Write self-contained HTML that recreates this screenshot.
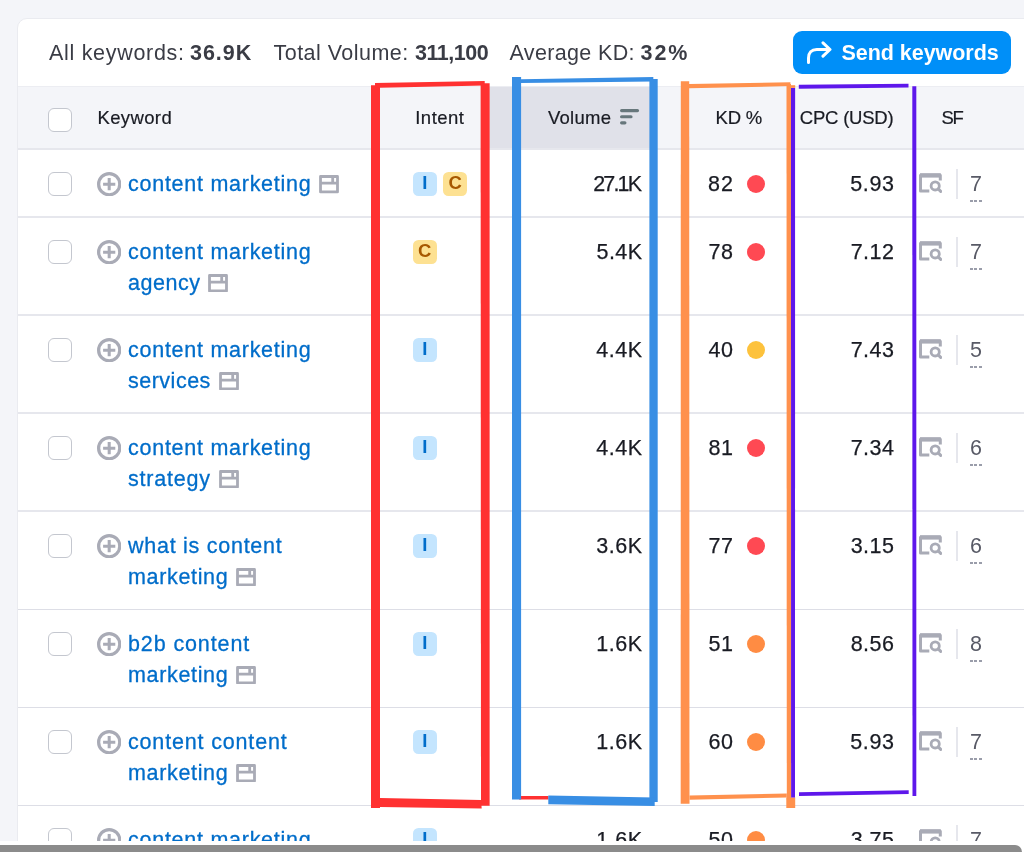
<!DOCTYPE html>
<html lang="en">
<head>
<meta charset="utf-8">
<title>Keyword table</title>
<style>
*{box-sizing:border-box;margin:0;padding:0}
html,body{width:1024px;height:852px;overflow:hidden;background:#F4F5F9}
body{position:relative;font-family:"Liberation Sans",Arial,sans-serif;color:#191B23;font-size:21.5px}
i{font-style:normal;display:block}
#card{position:absolute;left:17px;top:18px;width:1100px;height:900px;background:#fff;border:1px solid #EAEBF0;border-radius:10px}
#top{position:absolute;left:0;top:0;width:1024px;height:86px}
#top .s{position:absolute;top:38px;line-height:30px;white-space:nowrap;font-size:21.5px;color:#3A3C45}
#top b{color:#191B23}
#btn{position:absolute;left:793px;top:31px;width:218px;height:43px;border-radius:9px;background:#008FF8;color:#fff;font-weight:bold;font-size:21.5px;line-height:30px}
#btn span{position:absolute;left:48.500px;top:7px;white-space:nowrap}
#btn svg{position:absolute;left:12.500px;top:10px}
#thead{position:absolute;left:18px;top:86px;width:1006px;height:63px;background:#F4F5F9}
#thead .sorted{position:absolute;left:468px;top:0;width:170px;height:63px;background:#E0E1E9}
.h{-webkit-text-stroke:0.200px #191B23;position:absolute;top:19px;font-size:18.5px;line-height:26px;white-space:nowrap;color:#191B23}
.row{position:absolute;left:0;width:1024px;height:98px}
.line{position:absolute;left:18px;top:-1px;width:1006px;height:2px;background:#E6E7ED}
.l2{top:0;height:1px;background:#DDDEE6}
.cb{position:absolute;left:48px;top:23px;width:24px;height:24px;border:1.5px solid #C4C7CF;border-radius:6px;background:#fff}
.plus{position:absolute;left:97px;top:22.600px}
.kw{-webkit-text-stroke:0.300px #006DCA;position:absolute;left:128px;top:20px;line-height:30.5px;font-size:21.5px;color:#006DCA;white-space:nowrap}
.win{display:inline-block;vertical-align:-2.700px;margin-left:8px}
.bd{position:absolute;top:22.700px;width:24.400px;height:24.400px;border-radius:5.500px;font-size:18.500px;line-height:21.500px;text-align:center;font-weight:bold}
.bdI{background:#C4E5FE;color:#006DCA}
.bdC{background:#FDE192;color:#A75800}
.t{-webkit-text-stroke:0.250px #191B23;position:absolute;top:20px;line-height:30px;font-size:21.5px;white-space:nowrap;color:#191B23}
.vol{right:382px}
.kd{right:291px}
.cpc{right:130px}
.sf{left:970px;color:#585A66;-webkit-text-stroke:0}
.sf:after{content:"";position:absolute;left:0;right:0;top:30.500px;height:2px;background:repeating-linear-gradient(90deg,#9A9DAA 0,#9A9DAA 3px,transparent 3px,transparent 4.500px)}
.dot{position:absolute;left:746.500px;top:25.500px;width:18.500px;height:18.500px;border-radius:50%}
.dr{background:#FF4953}.dy{background:#FDC23C}.do{background:#FF8C43}
.serp{position:absolute;left:919.200px;top:24.300px}
.vd{position:absolute;left:956px;top:20px;width:2px;height:30px;background:#E6E7ED}
#anno{position:absolute;left:0;top:0}
#sbw{position:absolute;left:0;top:841px;width:1024px;height:11px;background:#fff}
#sb{position:absolute;left:0;top:845px;width:1022px;height:7px;background:#8B8B8B;border-radius:0 7px 0 0}
</style>
</head>
<body>
<div id="card"></div>
<div id="top">
<span class="s" style="left:49px;letter-spacing:0.695px">All keywords:</span>
<b class="s" style="left:190px;letter-spacing:0.969px">36.9K</b>
<span class="s" style="left:273.500px;letter-spacing:0.473px">Total Volume:</span>
<b class="s" style="left:415px;letter-spacing:-0.464px">311,100</b>
<span class="s" style="left:509.500px;letter-spacing:0.348px">Average KD:</span>
<b class="s" style="left:640.500px;letter-spacing:1.977px">32%</b>
<div id="btn"><svg width="27" height="24" viewBox="0 0 27 24"><path d="M2.500 21.500v-4.500c0-5.200 3-8.500 8.300-8.500h12.500M17 1.800l7 6.700-7 6.700" fill="none" stroke="#fff" stroke-width="3" stroke-linecap="round" stroke-linejoin="round"/></svg><span style="letter-spacing:-0.04px">Send keywords</span></div>
</div>
<div id="thead">
<div class="sorted"></div><i style="position:absolute;left:0;top:0;width:1006px;height:1px;background:#ECEDF2"></i>
<i class="cb" style="left:30px;top:22px"></i>
<span class="h" style="left:79.500px;letter-spacing:0.369px">Keyword</span>
<span class="h" style="left:397.250px;letter-spacing:0.481px">Intent</span>
<span class="h" style="left:530px;letter-spacing:0.246px">Volume</span>
<svg style="position:absolute;left:601.900px;top:22.500px" width="20" height="16" viewBox="0 0 20 16"><path d="M1.600 1.600h15.900M1.600 7.750h9.400M1.600 13.800h3.300" stroke="#67777C" stroke-width="3.200" stroke-linecap="round"/></svg>
<span class="h" style="left:697.500px;letter-spacing:-0.199px">KD %</span>
<span class="h" style="left:781.750px;letter-spacing:-0.205px">CPC (USD)</span>
<span class="h" style="left:923.500px;letter-spacing:-1.300px">SF</span>
</div>
<div class="row" style="top:149px">
<i class="line"></i><i class="cb"></i><svg class="plus" viewBox="0 0 24 24" width="24.400" height="24.400"><circle cx="12" cy="12" r="10.400" fill="none" stroke="#A9ABB6" stroke-width="3.200"/><path d="M6 12h12M12 6v12" stroke="#A9ABB6" stroke-width="3" fill="none"/></svg>
<div class="kw"><span style="letter-spacing:0.737px;">content marketing</span><svg class="win" viewBox="0 0 20 18.400" width="20" height="18.400"><path d="M1.500 1.500h17v15.400h-17zM1.500 8.100h17M13.700 2v6" fill="none" stroke="#A9ABB6" stroke-width="2.800" stroke-linejoin="round"/></svg></div>
<b class="bd bdI" style="left:412.5px">I</b>
<b class="bd bdC" style="left:443.0px">C</b>
<span class="t vol" style="letter-spacing:-1.859px;margin-right:1.859px;">27.1K</span>
<span class="t kd" style="letter-spacing:1.078px;margin-right:-1.078px;">82</span><i class="dot dr"></i>
<span class="t cpc" style="letter-spacing:0.63px;margin-right:-0.63px;">5.93</span>
<svg class="serp" viewBox="0 0 23 20" width="23" height="20"><path d="M10.300 18H1.500V2.200h19.800v5.300" fill="none" stroke="#A9ABB6" stroke-width="3" stroke-linejoin="round"/><path d="M1 2.400h20.800" stroke="#A9ABB6" stroke-width="4.400" fill="none"/><circle cx="16.200" cy="12.900" r="4.100" fill="none" stroke="#A9ABB6" stroke-width="2.800"/><path d="M19.200 15.900l2.500 2.500" stroke="#A9ABB6" stroke-width="3" stroke-linecap="round"/></svg><i class="vd"></i><span class="t sf">7</span>
</div>
<div class="row" style="top:217px">
<i class="line"></i><i class="cb"></i><svg class="plus" viewBox="0 0 24 24" width="24.400" height="24.400"><circle cx="12" cy="12" r="10.400" fill="none" stroke="#A9ABB6" stroke-width="3.200"/><path d="M6 12h12M12 6v12" stroke="#A9ABB6" stroke-width="3" fill="none"/></svg>
<div class="kw"><span style="letter-spacing:0.737px;">content marketing</span><br><span style="letter-spacing:0.521px;">agency</span><svg class="win" viewBox="0 0 20 18.400" width="20" height="18.400"><path d="M1.500 1.500h17v15.400h-17zM1.500 8.100h17M13.700 2v6" fill="none" stroke="#A9ABB6" stroke-width="2.800" stroke-linejoin="round"/></svg></div>
<b class="bd bdC" style="left:412.5px">C</b>
<span class="t vol" style="letter-spacing:0.422px;margin-right:-0.422px;">5.4K</span>
<span class="t kd" style="letter-spacing:0.5px;margin-right:-0.5px;">78</span><i class="dot dr"></i>
<span class="t cpc" style="letter-spacing:0.5px;margin-right:-0.5px;">7.12</span>
<svg class="serp" viewBox="0 0 23 20" width="23" height="20"><path d="M10.300 18H1.500V2.200h19.800v5.300" fill="none" stroke="#A9ABB6" stroke-width="3" stroke-linejoin="round"/><path d="M1 2.400h20.800" stroke="#A9ABB6" stroke-width="4.400" fill="none"/><circle cx="16.200" cy="12.900" r="4.100" fill="none" stroke="#A9ABB6" stroke-width="2.800"/><path d="M19.200 15.900l2.500 2.500" stroke="#A9ABB6" stroke-width="3" stroke-linecap="round"/></svg><i class="vd"></i><span class="t sf">7</span>
</div>
<div class="row" style="top:315px">
<i class="line"></i><i class="cb"></i><svg class="plus" viewBox="0 0 24 24" width="24.400" height="24.400"><circle cx="12" cy="12" r="10.400" fill="none" stroke="#A9ABB6" stroke-width="3.200"/><path d="M6 12h12M12 6v12" stroke="#A9ABB6" stroke-width="3" fill="none"/></svg>
<div class="kw"><span style="letter-spacing:0.737px;">content marketing</span><br><span style="letter-spacing:0.5px;">services</span><svg class="win" viewBox="0 0 20 18.400" width="20" height="18.400"><path d="M1.500 1.500h17v15.400h-17zM1.500 8.100h17M13.700 2v6" fill="none" stroke="#A9ABB6" stroke-width="2.800" stroke-linejoin="round"/></svg></div>
<b class="bd bdI" style="left:412.5px">I</b>
<span class="t vol" style="letter-spacing:0.5px;margin-right:-0.5px;">4.4K</span>
<span class="t kd" style="letter-spacing:0.5px;margin-right:-0.5px;">40</span><i class="dot dy"></i>
<span class="t cpc" style="letter-spacing:0.5px;margin-right:-0.5px;">7.43</span>
<svg class="serp" viewBox="0 0 23 20" width="23" height="20"><path d="M10.300 18H1.500V2.200h19.800v5.300" fill="none" stroke="#A9ABB6" stroke-width="3" stroke-linejoin="round"/><path d="M1 2.400h20.800" stroke="#A9ABB6" stroke-width="4.400" fill="none"/><circle cx="16.200" cy="12.900" r="4.100" fill="none" stroke="#A9ABB6" stroke-width="2.800"/><path d="M19.200 15.900l2.500 2.500" stroke="#A9ABB6" stroke-width="3" stroke-linecap="round"/></svg><i class="vd"></i><span class="t sf">5</span>
</div>
<div class="row" style="top:413px">
<i class="line"></i><i class="cb"></i><svg class="plus" viewBox="0 0 24 24" width="24.400" height="24.400"><circle cx="12" cy="12" r="10.400" fill="none" stroke="#A9ABB6" stroke-width="3.200"/><path d="M6 12h12M12 6v12" stroke="#A9ABB6" stroke-width="3" fill="none"/></svg>
<div class="kw"><span style="letter-spacing:0.737px;">content marketing</span><br><span style="letter-spacing:0.781px;">strategy</span><svg class="win" viewBox="0 0 20 18.400" width="20" height="18.400"><path d="M1.500 1.500h17v15.400h-17zM1.500 8.100h17M13.700 2v6" fill="none" stroke="#A9ABB6" stroke-width="2.800" stroke-linejoin="round"/></svg></div>
<b class="bd bdI" style="left:412.5px">I</b>
<span class="t vol" style="letter-spacing:0.5px;margin-right:-0.5px;">4.4K</span>
<span class="t kd" style="letter-spacing:0.5px;margin-right:-0.5px;">81</span><i class="dot dr"></i>
<span class="t cpc" style="letter-spacing:0.5px;margin-right:-0.5px;">7.34</span>
<svg class="serp" viewBox="0 0 23 20" width="23" height="20"><path d="M10.300 18H1.500V2.200h19.800v5.300" fill="none" stroke="#A9ABB6" stroke-width="3" stroke-linejoin="round"/><path d="M1 2.400h20.800" stroke="#A9ABB6" stroke-width="4.400" fill="none"/><circle cx="16.200" cy="12.900" r="4.100" fill="none" stroke="#A9ABB6" stroke-width="2.800"/><path d="M19.200 15.900l2.500 2.500" stroke="#A9ABB6" stroke-width="3" stroke-linecap="round"/></svg><i class="vd"></i><span class="t sf">6</span>
</div>
<div class="row" style="top:511px">
<i class="line"></i><i class="cb"></i><svg class="plus" viewBox="0 0 24 24" width="24.400" height="24.400"><circle cx="12" cy="12" r="10.400" fill="none" stroke="#A9ABB6" stroke-width="3.200"/><path d="M6 12h12M12 6v12" stroke="#A9ABB6" stroke-width="3" fill="none"/></svg>
<div class="kw"><span style="letter-spacing:0.734px;">what is content</span><br><span style="letter-spacing:0.662px;">marketing</span><svg class="win" viewBox="0 0 20 18.400" width="20" height="18.400"><path d="M1.500 1.500h17v15.400h-17zM1.500 8.100h17M13.700 2v6" fill="none" stroke="#A9ABB6" stroke-width="2.800" stroke-linejoin="round"/></svg></div>
<b class="bd bdI" style="left:412.5px">I</b>
<span class="t vol" style="letter-spacing:0.5px;margin-right:-0.5px;">3.6K</span>
<span class="t kd" style="letter-spacing:0.5px;margin-right:-0.5px;">77</span><i class="dot dr"></i>
<span class="t cpc" style="letter-spacing:0.5px;margin-right:-0.5px;">3.15</span>
<svg class="serp" viewBox="0 0 23 20" width="23" height="20"><path d="M10.300 18H1.500V2.200h19.800v5.300" fill="none" stroke="#A9ABB6" stroke-width="3" stroke-linejoin="round"/><path d="M1 2.400h20.800" stroke="#A9ABB6" stroke-width="4.400" fill="none"/><circle cx="16.200" cy="12.900" r="4.100" fill="none" stroke="#A9ABB6" stroke-width="2.800"/><path d="M19.200 15.900l2.500 2.500" stroke="#A9ABB6" stroke-width="3" stroke-linecap="round"/></svg><i class="vd"></i><span class="t sf">6</span>
</div>
<div class="row" style="top:609px">
<i class="line l2"></i><i class="cb"></i><svg class="plus" viewBox="0 0 24 24" width="24.400" height="24.400"><circle cx="12" cy="12" r="10.400" fill="none" stroke="#A9ABB6" stroke-width="3.200"/><path d="M6 12h12M12 6v12" stroke="#A9ABB6" stroke-width="3" fill="none"/></svg>
<div class="kw"><span style="letter-spacing:0.883px;">b2b content</span><br><span style="letter-spacing:0.662px;">marketing</span><svg class="win" viewBox="0 0 20 18.400" width="20" height="18.400"><path d="M1.500 1.500h17v15.400h-17zM1.500 8.100h17M13.700 2v6" fill="none" stroke="#A9ABB6" stroke-width="2.800" stroke-linejoin="round"/></svg></div>
<b class="bd bdI" style="left:412.5px">I</b>
<span class="t vol" style="letter-spacing:0.5px;margin-right:-0.5px;">1.6K</span>
<span class="t kd" style="letter-spacing:0.5px;margin-right:-0.5px;">51</span><i class="dot do"></i>
<span class="t cpc" style="letter-spacing:0.5px;margin-right:-0.5px;">8.56</span>
<svg class="serp" viewBox="0 0 23 20" width="23" height="20"><path d="M10.300 18H1.500V2.200h19.800v5.300" fill="none" stroke="#A9ABB6" stroke-width="3" stroke-linejoin="round"/><path d="M1 2.400h20.800" stroke="#A9ABB6" stroke-width="4.400" fill="none"/><circle cx="16.200" cy="12.900" r="4.100" fill="none" stroke="#A9ABB6" stroke-width="2.800"/><path d="M19.200 15.900l2.500 2.500" stroke="#A9ABB6" stroke-width="3" stroke-linecap="round"/></svg><i class="vd"></i><span class="t sf">8</span>
</div>
<div class="row" style="top:707px">
<i class="line l2"></i><i class="cb"></i><svg class="plus" viewBox="0 0 24 24" width="24.400" height="24.400"><circle cx="12" cy="12" r="10.400" fill="none" stroke="#A9ABB6" stroke-width="3.200"/><path d="M6 12h12M12 6v12" stroke="#A9ABB6" stroke-width="3" fill="none"/></svg>
<div class="kw"><span style="letter-spacing:0.833px;">content content</span><br><span style="letter-spacing:0.662px;">marketing</span><svg class="win" viewBox="0 0 20 18.400" width="20" height="18.400"><path d="M1.500 1.500h17v15.400h-17zM1.500 8.100h17M13.700 2v6" fill="none" stroke="#A9ABB6" stroke-width="2.800" stroke-linejoin="round"/></svg></div>
<b class="bd bdI" style="left:412.5px">I</b>
<span class="t vol" style="letter-spacing:0.5px;margin-right:-0.5px;">1.6K</span>
<span class="t kd" style="letter-spacing:0.5px;margin-right:-0.5px;">60</span><i class="dot do"></i>
<span class="t cpc" style="letter-spacing:0.63px;margin-right:-0.63px;">5.93</span>
<svg class="serp" viewBox="0 0 23 20" width="23" height="20"><path d="M10.300 18H1.500V2.200h19.800v5.300" fill="none" stroke="#A9ABB6" stroke-width="3" stroke-linejoin="round"/><path d="M1 2.400h20.800" stroke="#A9ABB6" stroke-width="4.400" fill="none"/><circle cx="16.200" cy="12.900" r="4.100" fill="none" stroke="#A9ABB6" stroke-width="2.800"/><path d="M19.200 15.900l2.500 2.500" stroke="#A9ABB6" stroke-width="3" stroke-linecap="round"/></svg><i class="vd"></i><span class="t sf">7</span>
</div>
<div class="row" style="top:805px">
<i class="line l2"></i><i class="cb"></i><svg class="plus" viewBox="0 0 24 24" width="24.400" height="24.400"><circle cx="12" cy="12" r="10.400" fill="none" stroke="#A9ABB6" stroke-width="3.200"/><path d="M6 12h12M12 6v12" stroke="#A9ABB6" stroke-width="3" fill="none"/></svg>
<div class="kw"><span style="letter-spacing:0.737px;">content marketing</span><br><span style="letter-spacing:0.5px;">examples</span><svg class="win" viewBox="0 0 20 18.400" width="20" height="18.400"><path d="M1.500 1.500h17v15.400h-17zM1.500 8.100h17M13.700 2v6" fill="none" stroke="#A9ABB6" stroke-width="2.800" stroke-linejoin="round"/></svg></div>
<b class="bd bdI" style="left:412.5px">I</b>
<span class="t vol" style="letter-spacing:0.5px;margin-right:-0.5px;">1.6K</span>
<span class="t kd" style="letter-spacing:0.5px;margin-right:-0.5px;">50</span><i class="dot do"></i>
<span class="t cpc" style="letter-spacing:0.5px;margin-right:-0.5px;">3.75</span>
<svg class="serp" viewBox="0 0 23 20" width="23" height="20"><path d="M10.300 18H1.500V2.200h19.800v5.300" fill="none" stroke="#A9ABB6" stroke-width="3" stroke-linejoin="round"/><path d="M1 2.400h20.800" stroke="#A9ABB6" stroke-width="4.400" fill="none"/><circle cx="16.200" cy="12.900" r="4.100" fill="none" stroke="#A9ABB6" stroke-width="2.800"/><path d="M19.200 15.900l2.500 2.500" stroke="#A9ABB6" stroke-width="3" stroke-linecap="round"/></svg><i class="vd"></i><span class="t sf">7</span>
</div>
<svg id="anno" width="1024" height="852" viewBox="0 0 1024 852">
<g fill="#FF3131">
<polygon points="371,85.3 380,85.3 380,808 371,808"/>
<polygon points="375,83.100 484.700,81 484.700,85.500 380,87.800 375,87.800"/>
<polygon points="480.6,83.3 489.6,83.3 489.6,805.8 481,805.8"/>
<polygon points="380,798 481,800 481.7,808.5 380,806.9"/>
<polygon points="519,796 548.5,796 548.5,799.5 519,799.5"/>
</g>
<g fill="#388EE4">
<polygon points="512,77 521.1,77 521.1,799.5 512,799.5"/>
<polygon points="521,79.200 653.300,77 653.300,81.500 521,83"/>
<polygon points="649.4,79 657.7,79 657.7,802 649.4,802"/>
<polygon points="548.3,795.5 654.7,797.6 654.7,806 548.3,804.3"/>
</g>
<g fill="#FF914D">
<polygon points="680.8,81.2 689.2,81.2 689.5,803.8 680.7,803.8"/>
<polygon points="689,84 790.4,82.2 790.4,86.1 689,88.2"/>
<polygon points="786.5,84 791,84 791.2,800 786.8,800"/>
<polygon points="790,85.2 795.2,85.2 795.2,87.9 790,87.9"/>
<polygon points="689.5,795.4 786.8,793.6 786.8,797.4 689.5,799.7"/>
<polygon points="786.3,797.4 795.2,797.4 795.2,808 786.3,808"/>
</g>
<g fill="#5E17EB">
<polygon points="791,88 795.1,88 795,797.4 791.1,797.4"/>
<polygon points="798.8,84.7 908.5,83.8 908.5,87.6 798.8,88.7"/>
<polygon points="912.3,86.2 916.3,86.2 916.3,795.9 912.5,795.9"/>
<polygon points="799,792.3 908.7,790.3 908.7,794.1 799,795.9"/>
</g>

</svg>
<div id="sbw"></div><div id="sb"></div>
</body>
</html>
